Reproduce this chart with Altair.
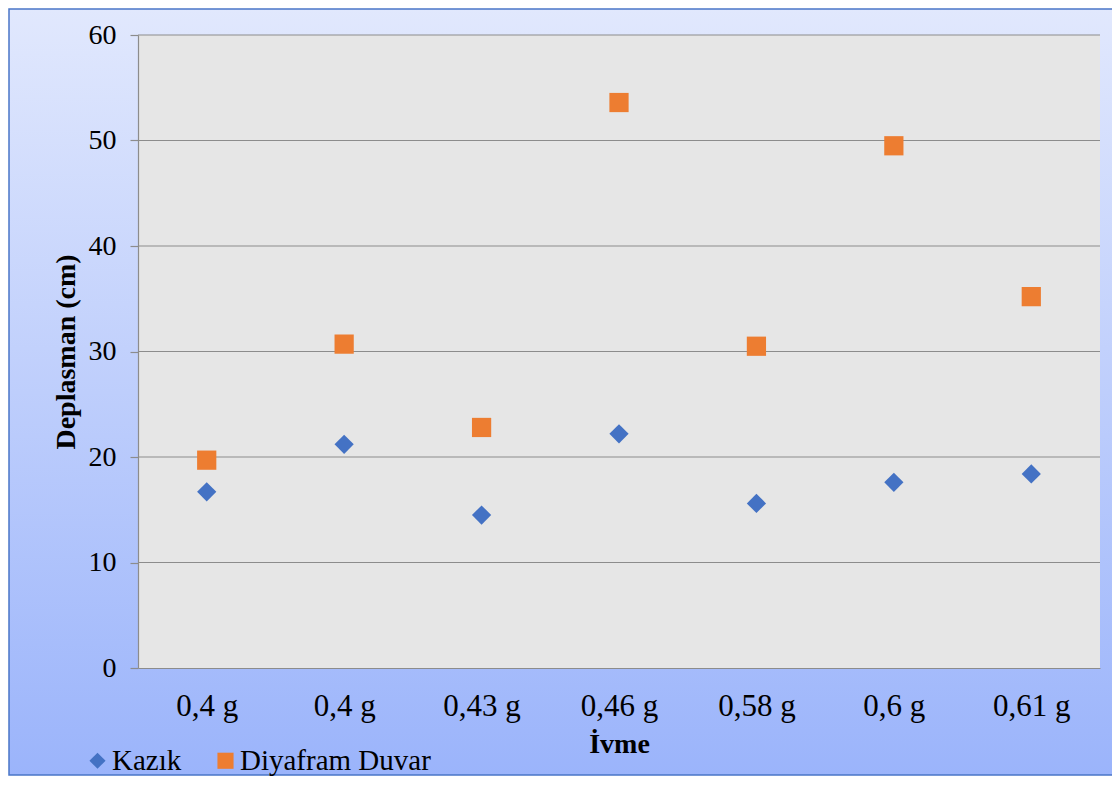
import json
import altair as alt
import pandas as pd

# ---- data ----
x_labels = ["0,4 g", "0,4 g", "0,43 g", "0,46 g", "0,58 g", "0,6 g", "0,61 g"]
kazik = [16.7, 21.2, 14.5, 22.2, 15.6, 17.6, 18.4]
diyafram = [19.7, 30.7, 22.8, 53.6, 30.5, 49.5, 35.2]
series_names = ["Kazık", "Diyafram Duvar"]
y_ticks = [0, 10, 20, 30, 40, 50, 60]
grid_vals = [10, 20, 30, 40, 50, 60]

W, H = 962, 633
PAD = {"left": 130, "top": 27, "right": 12, "bottom": 108}
FONT = "Liberation Serif"

rows = []
for i, lab in enumerate(x_labels):
    rows.append({"idx": i, "label": lab, "series": series_names[0], "value": kazik[i]})
for i, lab in enumerate(x_labels):
    rows.append({"idx": i, "label": lab, "series": series_names[1], "value": diyafram[i]})
df = pd.DataFrame(rows)

label_expr = json.dumps(x_labels) + "[datum.value]"

y_scale = alt.Scale(domain=[0, 60], nice=False, zero=True)
y_axis = alt.Axis(values=y_ticks, grid=False, tickSize=8, tickColor="#8c8c8c",
                  tickWidth=1.2,
                  labelFontSize=28, labelFont=FONT, labelColor="#000", labelPadding=14,
                  titleFont=FONT, titleFontSize=28, titleFontWeight="bold",
                  titleColor="#000", titlePadding=8,
                  domainColor="#8c8c8c", domainWidth=1.2, zindex=1)

bg_grad = alt.Gradient(
    gradient="linear",
    stops=[alt.GradientStop(color="#e1e8fd", offset=0),
           alt.GradientStop(color="#9bb4fb", offset=1)],
    x1=0, x2=0, y1=0, y2=1,
)

one = alt.Data(values=[{"a": 1}])

background = alt.Chart(one).mark_rect(fill=bg_grad, stroke="#4a76c8", strokeWidth=1.5).encode(
    x=alt.value(-PAD["left"] + 1), x2=alt.value(W + PAD["right"] + 4),
    y=alt.value(-PAD["top"] + 1), y2=alt.value(H + PAD["bottom"] - 1),
)

plot_bg = alt.Chart(one).mark_rect(fill="#e6e6e6").encode(
    x=alt.value(0), x2=alt.value(W), y=alt.value(0), y2=alt.value(H),
)

grid = alt.Chart(pd.DataFrame({"value": grid_vals})).mark_rule(
    color="#8c8c8c", strokeWidth=1.2
).encode(y=alt.Y("value:Q", scale=y_scale, title="Deplasman (cm)", axis=y_axis))

points = alt.Chart(df).mark_point(filled=True, opacity=1, size=370).encode(
    x=alt.X("idx:O", title="İvme",
            axis=alt.Axis(labelExpr=label_expr, labelAngle=0, ticks=False,
                          labelFontSize=31, labelPadding=23, labelFont=FONT, labelColor="#000",
                          titleFont=FONT, titleFontSize=28, titleFontWeight="bold",
                          titleColor="#000", titlePadding=9,
                          domainColor="#8c8c8c", domainWidth=1.2, zindex=1)),
    y=alt.Y("value:Q", scale=y_scale, title="Deplasman (cm)", axis=y_axis),
    color=alt.Color("series:N",
                    scale=alt.Scale(domain=series_names, range=["#4472c4", "#ed7d31"]),
                    legend=alt.Legend(title=None, orient="none", legendX=-55, legendY=711,
                                      direction="horizontal", labelFont=FONT,
                                      labelFontSize=29, labelColor="#000", labelLimit=0,
                                      symbolSize=260, symbolStrokeWidth=0,
                                      labelOffset=0, columnPadding=29,
                                      symbolOpacity=1, zindex=1)),
    shape=alt.Shape("series:N",
                    scale=alt.Scale(domain=series_names, range=["diamond", "square"])),
)

chart = alt.layer(background, plot_bg, grid, points).properties(
    width=W, height=H,
    autosize=alt.AutoSizeParams(type="none"),
    padding=PAD,
).configure_view(strokeWidth=0)

chart.save("out.html", embed_options={"renderer": "svg", "actions": False})
